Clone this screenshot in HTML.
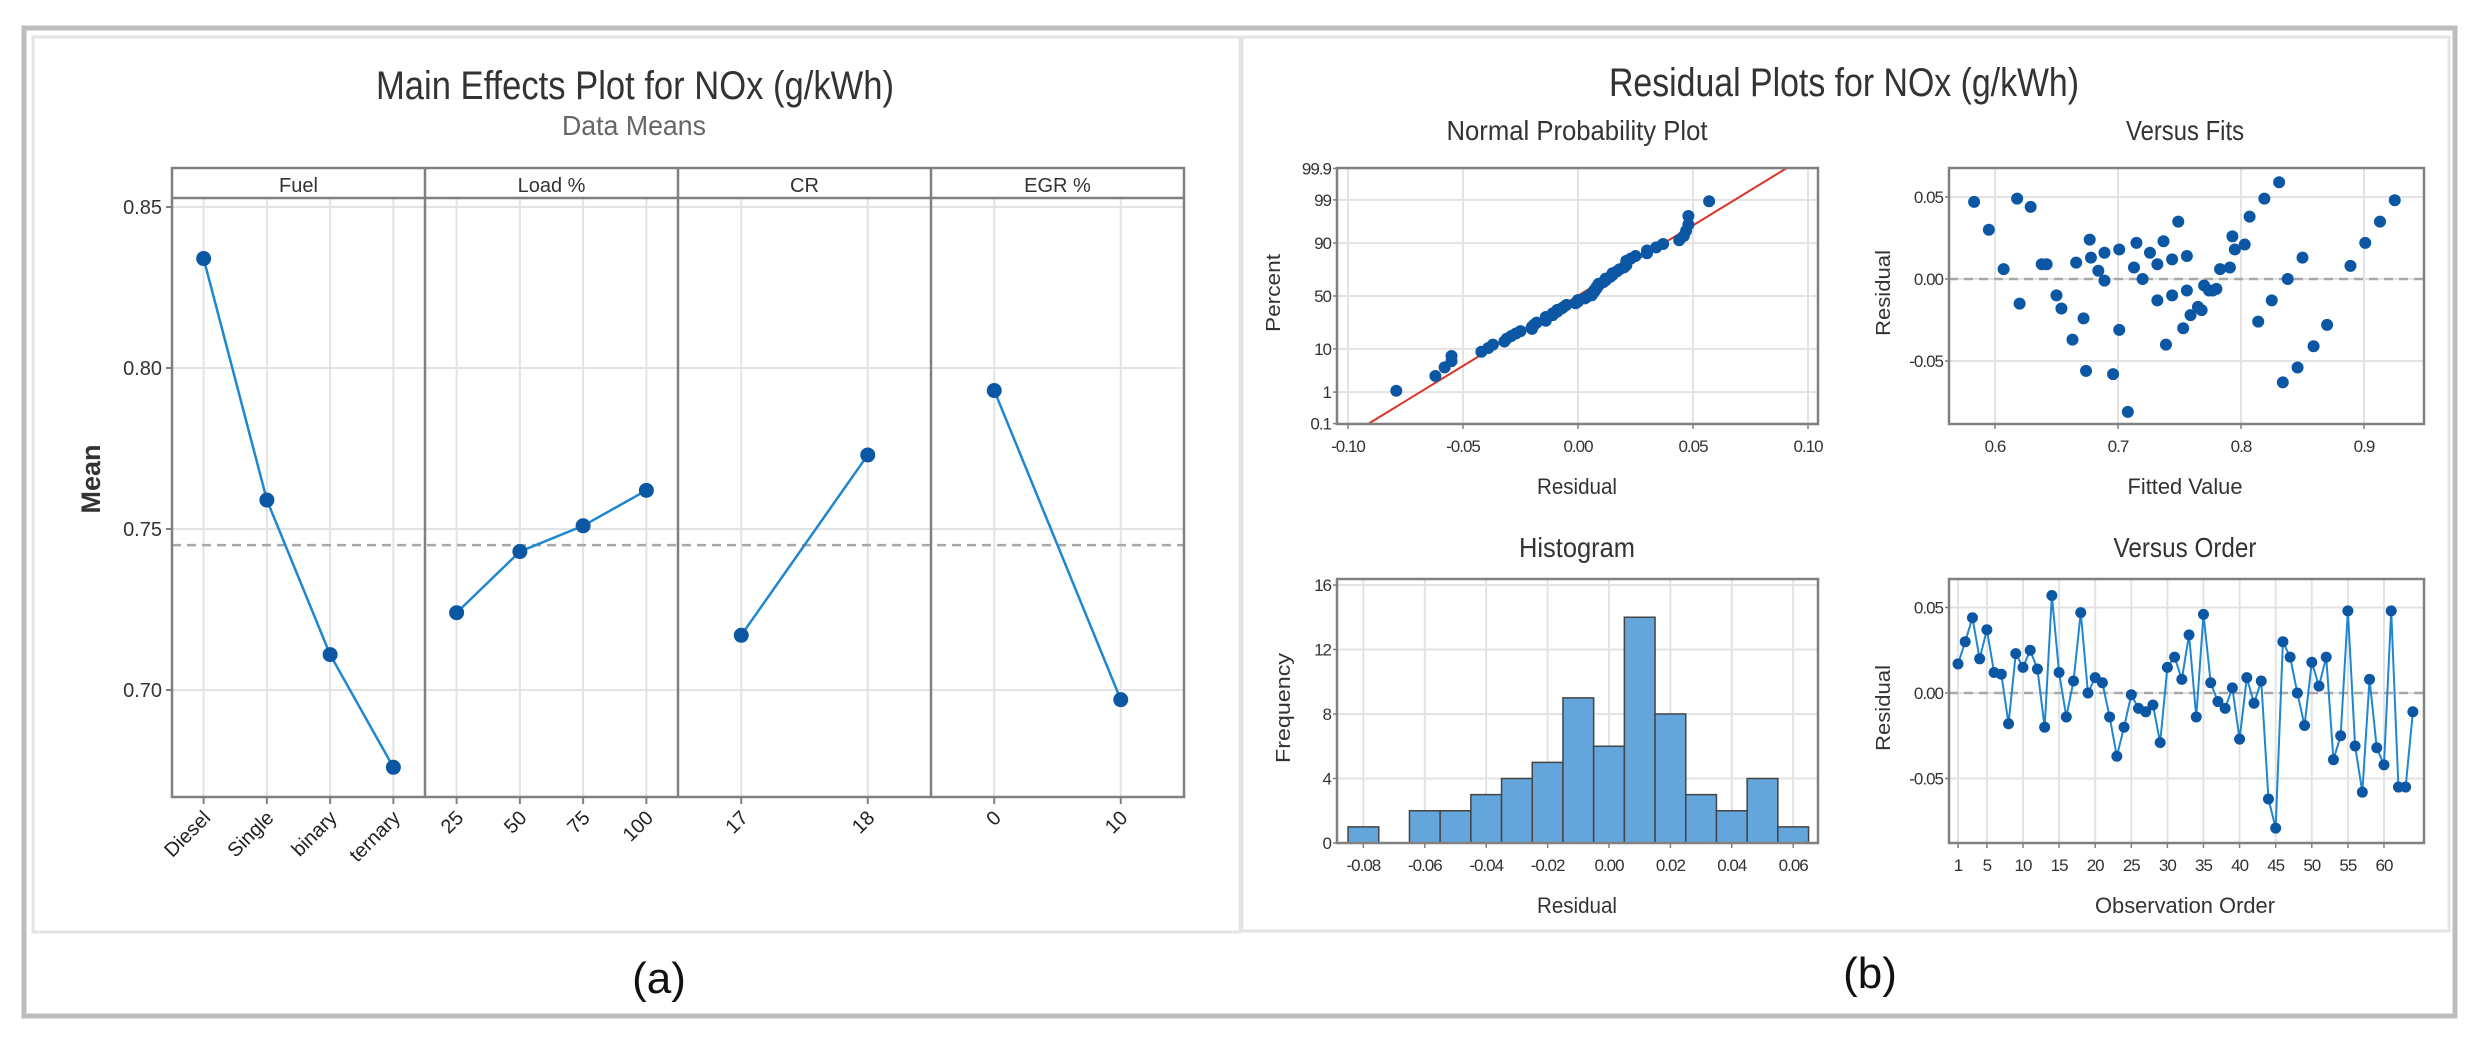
<!DOCTYPE html>
<html><head><meta charset="utf-8"><title>Main Effects and Residual Plots for NOx</title>
<style>
html,body{margin:0;padding:0;background:#fff;}
svg{display:block;font-family:"Liberation Sans",sans-serif;}
</style></head>
<body>
<svg id="fig" width="2477" height="1043" viewBox="0 0 2477 1043" xmlns="http://www.w3.org/2000/svg">
<rect x="0" y="0" width="2477" height="1043" fill="#fff"/>
<rect x="24" y="28" width="2431" height="988" fill="none" stroke="#bdbdbd" stroke-width="5"/>
<rect x="33" y="37" width="1207" height="895" fill="none" stroke="#e4e4e4" stroke-width="3"/>
<rect x="1242" y="37" width="1207" height="894" fill="none" stroke="#e4e4e4" stroke-width="3"/>
<text x="635" y="99" text-anchor="middle" font-size="40" fill="#333" textLength="518" lengthAdjust="spacingAndGlyphs">Main Effects Plot for NOx (g/kWh)</text>
<text x="634" y="135" text-anchor="middle" font-size="28" fill="#666" textLength="144" lengthAdjust="spacingAndGlyphs">Data Means</text>
<text x="1844" y="96" text-anchor="middle" font-size="40" fill="#333" textLength="470" lengthAdjust="spacingAndGlyphs">Residual Plots for NOx (g/kWh)</text>
<text x="659" y="993" text-anchor="middle" font-size="44" fill="#111">(a)</text>
<text x="1870" y="988" text-anchor="middle" font-size="44" fill="#111">(b)</text>
<g id="g"></g>
</svg>
<script>
// ---------- Main effects data ----------
const panelNames = ["Fuel", "Load %", "CR", "EGR %"];
const fuelLevels = ["Diesel", "Single", "binary", "ternary"];
const fuelMeans = [0.834, 0.759, 0.711, 0.676];
const loadLevels = ["25", "50", "75", "100"];
const loadMeans = [0.724, 0.743, 0.751, 0.762];
const crLevels = ["17", "18"];
const crMeans = [0.717, 0.773];
const egrLevels = ["0", "10"];
const egrMeans = [0.793, 0.697];
const grandMean = 0.745;
const meanTicks = [0.70, 0.75, 0.80, 0.85];
const meanTickLabels = ["0.70", "0.75", "0.80", "0.85"];

// ---------- Residual data ----------
const residualsByOrder = [0.017,0.030,0.044,0.020,0.037,0.012,0.011,-0.018,0.023,0.015,0.025,0.014,-0.020,0.057,0.012,-0.014,0.007,0.047,0.000,0.009,0.006,-0.014,-0.037,-0.020,-0.001,-0.009,-0.011,-0.007,-0.029,0.015,0.021,0.008,0.034,-0.014,0.046,0.006,-0.005,-0.009,0.003,-0.027,0.009,-0.006,0.007,-0.062,-0.079,0.030,0.021,0.000,-0.019,0.018,0.004,0.021,-0.039,-0.025,0.048,-0.031,-0.058,0.008,-0.032,-0.042,0.048,-0.055,-0.055,-0.011];
const fitValues = [0.583,0.595,0.607,0.618,0.620,0.629,0.638,0.642,0.650,0.654,0.663,0.666,0.672,0.674,0.677,0.678,0.684,0.689,0.689,0.696,0.701,0.701,0.708,0.713,0.715,0.720,0.726,0.732,0.732,0.737,0.739,0.744,0.744,0.749,0.753,0.756,0.756,0.759,0.765,0.768,0.770,0.774,0.777,0.780,0.783,0.791,0.793,0.795,0.803,0.807,0.814,0.819,0.825,0.831,0.834,0.838,0.846,0.850,0.859,0.870,0.889,0.901,0.913,0.925];
const fitResiduals = [0.047,0.030,0.006,0.049,-0.015,0.044,0.009,0.009,-0.010,-0.018,-0.037,0.010,-0.024,-0.056,0.024,0.013,0.005,-0.001,0.016,-0.058,0.018,-0.031,-0.081,0.007,0.022,0.000,0.016,0.009,-0.013,0.023,-0.040,0.012,-0.010,0.035,-0.030,0.014,-0.007,-0.022,-0.017,-0.019,-0.004,-0.007,-0.007,-0.006,0.006,0.007,0.026,0.018,0.021,0.038,-0.026,0.049,-0.013,0.059,-0.063,0.000,-0.054,0.013,-0.041,-0.028,0.008,0.022,0.035,0.048];
const histBinCenters = [-0.08,-0.07,-0.06,-0.05,-0.04,-0.03,-0.02,-0.01,0.00,0.01,0.02,0.03,0.04,0.05,0.06];
const histCounts = [1,0,2,2,3,4,5,9,6,14,8,3,2,4,1];
const nppXTicks = [-0.10,-0.05,0.00,0.05,0.10];
const nppXTickLabels = ["-0.10","-0.05","0.00","0.05","0.10"];
const nppYTicks = [0.1,1,10,50,90,99,99.9];
const nppYTickLabels = ["0.1","1","10","50","90","99","99.9"];
const fitsXTicks = [0.6,0.7,0.8,0.9];
const fitsXTickLabels = ["0.6","0.7","0.8","0.9"];
const residTicks = [-0.05,0.00,0.05];
const residTickLabels = ["-0.05","0.00","0.05"];
const histXTicks = [-0.08,-0.06,-0.04,-0.02,0.00,0.02,0.04,0.06];
const histXTickLabels = ["-0.08","-0.06","-0.04","-0.02","0.00","0.02","0.04","0.06"];
const histYTicks = [0,4,8,12,16];
const histYTickLabels = ["0","4","8","12","16"];
const orderTicks = [1,5,10,15,20,25,30,35,40,45,50,55,60];
const orderTickLabels = ["1","5","10","15","20","25","30","35","40","45","50","55","60"];

const NS = "http://www.w3.org/2000/svg";
const G = document.getElementById("g");
function mk(tag, attrs, txt) {
  const e = document.createElementNS(NS, tag);
  for (const k in attrs) e.setAttribute(k, attrs[k]);
  if (txt !== undefined) e.textContent = txt;
  G.appendChild(e);
  return e;
}
const GRID = "#e3e3e3", AX = "#808080", TXT = "#333", MK = "#0b57a4", LN = "#1f86d1";

// ---------- Main effects plot ----------
const meL = 172, meR = 1184, stripT = 168, stripB = 198, meB = 797;
const pw = (meR - meL) / 4;
function yMean(v) { return 690 - (v - 0.70) / 0.05 * 161; }
function xCat(panel, j, n) { return meL + panel * pw + (j + 0.5) / n * pw; }
const allLevels = [fuelLevels, loadLevels, crLevels, egrLevels];
const allMeans = [fuelMeans, loadMeans, crMeans, egrMeans];

meanTicks.forEach((t, i) => {
  const l = mk("line", {x1: meL, x2: meR, y1: yMean(t), y2: yMean(t), stroke: GRID, "stroke-width": 2});
  
  
  const tk = mk("line", {x1: meL - 6, x2: meL, y1: yMean(t), y2: yMean(t), stroke: AX, "stroke-width": 2});
  
  
  const tx = mk("text", {x: meL - 10, y: yMean(t) + 7, "text-anchor": "end", "font-size": 20, fill: TXT}, meanTickLabels[i]);
  
  
});
allLevels.forEach((lv, p) => {
  lv.forEach((name, j) => {
    const x = xCat(p, j, lv.length);
    const gl = mk("line", {x1: x, x2: x, y1: stripB, y2: meB, stroke: GRID, "stroke-width": 2});
    
    
    const tk = mk("line", {x1: x, x2: x, y1: meB, y2: meB + 7, stroke: AX, "stroke-width": 2});
    
    
    const tx = mk("text", {x: x + 8, y: meB + 22, "text-anchor": "end", "font-size": 20, fill: "#222", transform: `rotate(-45 ${x + 8} ${meB + 22})`}, name);
    
    
  });
});
const gm = mk("line", {x1: meL, x2: meR, y1: yMean(grandMean), y2: yMean(grandMean), stroke: "#a8a8a8", "stroke-width": 2.5, "stroke-dasharray": "9 6"});


const frame = mk("rect", {x: meL, y: stripT, width: meR - meL, height: meB - stripT, fill: "none", stroke: AX, "stroke-width": 2.5});


const sb = mk("line", {x1: meL, x2: meR, y1: stripB, y2: stripB, stroke: AX, "stroke-width": 2.5});


panelNames.forEach((nm, p) => {
  if (p > 0) {
    const d = mk("line", {x1: meL + p * pw, x2: meL + p * pw, y1: stripT, y2: meB, stroke: AX, "stroke-width": 2.5});
    
    
  }
  const st = mk("text", {x: meL + (p + 0.5) * pw, y: 192, "text-anchor": "middle", "font-size": 20, fill: TXT}, nm);
  
  
  const vals = allMeans[p], n = vals.length;
  const pts = vals.map((v, j) => xCat(p, j, n) + "," + yMean(v)).join(" ");
  const pl = mk("polyline", {points: pts, fill: "none", stroke: LN, "stroke-width": 2.5});
  
  
  vals.forEach((v, j) => {
    const c = mk("circle", {cx: xCat(p, j, n), cy: yMean(v), r: 7.5, fill: MK});
    
    
  });
});
const ml = mk("text", {x: 100, y: 479, "text-anchor": "middle", "font-size": 27, fill: TXT, "font-weight": "bold", transform: "rotate(-90 100 479)"}, "Mean");



// ---------- Residual helpers ----------
function axesFrame(x0, y0, x1, y1, name) {
  const r = mk("rect", {x: x0, y: y0, width: x1 - x0, height: y1 - y0, fill: "none", stroke: AX, "stroke-width": 2.5});
  
  
}
function hGrid(x0, x1, y, lbl, lx) {
  const l = mk("line", {x1: x0, x2: x1, y1: y, y2: y, stroke: GRID, "stroke-width": 2});
  
  
  const tk = mk("line", {x1: x0 - 4, x2: x0, y1: y, y2: y, stroke: AX, "stroke-width": 1.5});
  
  
  const t = mk("text", {x: x0 - 6, y: y + 6, "text-anchor": "end", "font-size": 17, fill: TXT, "letter-spacing": "-1"}, lbl);
  
  
}
function vGrid(y0, y1, x, lbl) {
  const l = mk("line", {x1: x, x2: x, y1: y0, y2: y1, stroke: GRID, "stroke-width": 2});
  
  
  const tk = mk("line", {x1: x, x2: x, y1: y1, y2: y1 + 5, stroke: AX, "stroke-width": 1.5});
  
  
  const t = mk("text", {x: x, y: y1 + 28, "text-anchor": "middle", "font-size": 17, fill: TXT, "letter-spacing": "-1"}, lbl);
  
  
}
function label(x, y, txt, size, rot, name, w) {
  const a = {x: x, y: y, "text-anchor": "middle", "font-size": size, fill: TXT};
  if (rot) a.transform = `rotate(-90 ${x} ${y})`;
  if (w) { a.textLength = w; a.lengthAdjust = "spacingAndGlyphs"; }
  const t = mk("text", a, txt);
  
  
}

// ---------- Normal probability plot ----------
const nL = 1337, nR = 1818, nT = 168, nB = 424;
function xNpp(r) { return 1578 + r / 0.05 * 115; }
function yZ(z) { return 296 - z * 41.3; }
function invNorm(p) {
  const a = [-39.69683028665376, 220.9460984245205, -275.9285104469687, 138.3577518672690, -30.66479806614716, 2.506628277459239];
  const b = [-54.47609879822406, 161.5858589079856, -155.6989798598866, 66.80131188771972, -13.28068155288572];
  const c = [-0.007784894002430293, -0.3223964580411365, -2.400758277161838, -2.549732539343734, 4.374664141464968, 2.938163982698783];
  const d = [0.007784695709041462, 0.3224671290700398, 2.445134137142996, 3.754408661907416];
  const pl = 0.02425;
  let q, r;
  if (p < pl) { q = Math.sqrt(-2 * Math.log(p)); return (((((c[0]*q+c[1])*q+c[2])*q+c[3])*q+c[4])*q+c[5])/((((d[0]*q+d[1])*q+d[2])*q+d[3])*q+1); }
  if (p > 1 - pl) { q = Math.sqrt(-2 * Math.log(1 - p)); return -(((((c[0]*q+c[1])*q+c[2])*q+c[3])*q+c[4])*q+c[5])/((((d[0]*q+d[1])*q+d[2])*q+d[3])*q+1); }
  q = p - 0.5; r = q * q;
  return (((((a[0]*r+a[1])*r+a[2])*r+a[3])*r+a[4])*r+a[5])*q/(((((b[0]*r+b[1])*r+b[2])*r+b[3])*r+b[4])*r+1);
}
nppXTicks.forEach((t, i) => vGrid(nT, nB, xNpp(t), nppXTickLabels[i]));
nppYTicks.forEach((t, i) => hGrid(nL, nR, yZ(invNorm(t / 100)), nppYTickLabels[i]));
const n = residualsByOrder.length;
const mean = residualsByOrder.reduce((s, v) => s + v, 0) / n;
const sd = Math.sqrt(residualsByOrder.reduce((s, v) => s + (v - mean) * (v - mean), 0) / (n - 1));
const zLo = -3.09, zHi = 3.09;
const fitLine = mk("line", {x1: xNpp(mean + zLo * sd), y1: yZ(zLo), x2: xNpp(mean + zHi * sd), y2: yZ(zHi), stroke: "#d9342b", "stroke-width": 2});


const sorted = residualsByOrder.slice().sort((a, b) => a - b);
sorted.forEach((r, i) => {
  const z = invNorm((i + 1 - 0.3) / (n + 0.4));
  const c = mk("circle", {cx: xNpp(r), cy: yZ(z), r: 6, fill: MK});
  
  
});
axesFrame(nL, nT, nR, nB, 'npp-frame');
label(1577, 140, "Normal Probability Plot", 28, false, 'npp-title', 261);
label(1577, 494, "Residual", 22, false, 'npp-x-title', 80);
label(1280, 293, "Percent", 20, true, 'npp-y-title', 78);

// ---------- Versus fits ----------
const fL = 1949, fR = 2424, fT = 168, fB = 424;
function xFit(f) { return 1995 + (f - 0.6) / 0.1 * 123; }
function yFitR(r) { return 279 - r / 0.05 * 82; }
fitsXTicks.forEach((t, i) => vGrid(fT, fB, xFit(t), fitsXTickLabels[i]));
residTicks.forEach((t, i) => hGrid(fL, fR, yFitR(t), residTickLabels[i]));
const z1 = mk("line", {x1: fL, x2: fR, y1: yFitR(0), y2: yFitR(0), stroke: "#a8a8a8", "stroke-width": 2.5, "stroke-dasharray": "9 6"});


fitValues.forEach((f, i) => {
  const c = mk("circle", {cx: xFit(f), cy: yFitR(fitResiduals[i]), r: 6, fill: MK});
  
  
});
axesFrame(fL, fT, fR, fB, 'fits-frame');
label(2185, 140, "Versus Fits", 28, false, 'fits-title', 118);
label(2185, 494, "Fitted Value", 22, false, 'fits-x-title', 115);
label(1890, 293, "Residual", 20, true, 'fits-y-title', 86);

// ---------- Histogram ----------
const hL = 1337, hR = 1818, hT = 579, hB = 843;
function xH(r) { return 1609 + r / 0.02 * 61.4; }
function yH(c) { return 843 - c / 4 * 64.5; }
histXTicks.forEach((t, i) => vGrid(hT, hB, xH(t), histXTickLabels[i]));
histYTicks.forEach((t, i) => hGrid(hL, hR, yH(t), histYTickLabels[i]));
histBinCenters.forEach((b, i) => {
  const x0 = xH(b - 0.005), x1 = xH(b + 0.005);
  const r = mk("rect", {x: x0, y: yH(histCounts[i]), width: x1 - x0, height: yH(0) - yH(histCounts[i]), fill: "#64a5dc", stroke: "#444", "stroke-width": 1.5});
  
  
});
axesFrame(hL, hT, hR, hB, 'histogram-frame');
label(1577, 557, "Histogram", 28, false, 'histogram-title', 116);
label(1577, 913, "Residual", 22, false, 'histogram-x-title', 80);
label(1290, 708, "Frequency", 20, true, 'histogram-y-title', 110);

// ---------- Versus order ----------
const oL = 1949, oR = 2424, oT = 579, oB = 843;
function xO(i) { return 1958 + (i - 1) * 7.22; }
function yO(r) { return 693 - r / 0.05 * 85.5; }
orderTicks.forEach((t, i) => vGrid(oT, oB, xO(t), orderTickLabels[i]));
residTicks.forEach((t, i) => hGrid(oL, oR, yO(t), residTickLabels[i]));
const z2 = mk("line", {x1: oL, x2: oR, y1: yO(0), y2: yO(0), stroke: "#a8a8a8", "stroke-width": 2.5, "stroke-dasharray": "9 6"});


const opts = residualsByOrder.map((r, i) => xO(i + 1) + "," + yO(r)).join(" ");
const ol = mk("polyline", {points: opts, fill: "none", stroke: LN, "stroke-width": 2});


residualsByOrder.forEach((r, i) => {
  const c = mk("circle", {cx: xO(i + 1), cy: yO(r), r: 5.5, fill: MK});
  
  
});
axesFrame(oL, oT, oR, oB, 'order-frame');
label(2185, 557, "Versus Order", 28, false, 'order-title', 143);
label(2185, 913, "Observation Order", 22, false, 'order-x-title', 180);
label(1890, 708, "Residual", 20, true, 'order-y-title', 86);
</script>
</body></html>
